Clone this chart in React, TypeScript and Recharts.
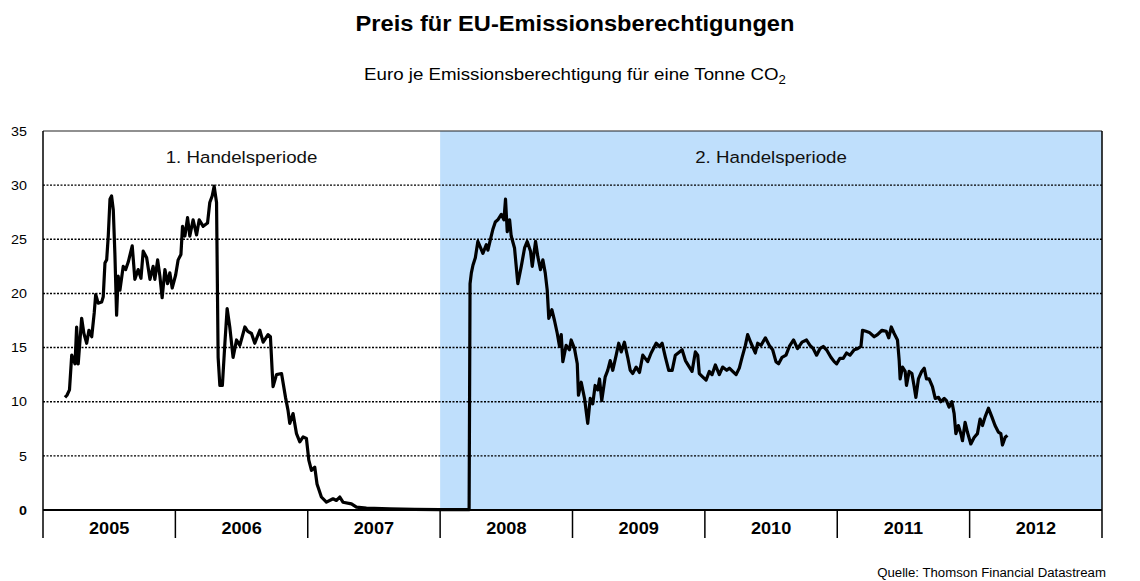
import React from "react"
import { LineChart, Line, XAxis, YAxis, ReferenceArea, ReferenceLine } from "recharts"

// 1. Handelsperiode (Spot, Euro je t CO2)
const dates1 = [
  2005.166, 2005.181, 2005.2, 2005.217, 2005.242, 2005.254, 2005.266, 2005.292, 2005.309, 2005.33,
  2005.347, 2005.368, 2005.387, 2005.398, 2005.417, 2005.443, 2005.455, 2005.468, 2005.481, 2005.493,
  2005.506, 2005.518, 2005.531, 2005.543, 2005.556, 2005.568, 2005.581, 2005.606, 2005.624, 2005.644,
  2005.674, 2005.694, 2005.719, 2005.74, 2005.757, 2005.783, 2005.808, 2005.832, 2005.845, 2005.866,
  2005.883, 2005.9, 2005.921, 2005.941, 2005.958, 2005.976, 2006.002, 2006.021, 2006.042, 2006.054,
  2006.072, 2006.092, 2006.109, 2006.134, 2006.16, 2006.18, 2006.21, 2006.243, 2006.26, 2006.278,
  2006.293, 2006.311, 2006.323, 2006.336, 2006.355, 2006.374, 2006.391, 2006.411, 2006.436, 2006.462,
  2006.487, 2006.525, 2006.547, 2006.575, 2006.6, 2006.638, 2006.663, 2006.7, 2006.718, 2006.731,
  2006.738, 2006.764, 2006.802, 2006.832, 2006.851, 2006.864, 2006.889, 2006.915, 2006.94, 2006.965,
  2006.99, 2007.008, 2007.028, 2007.053, 2007.07, 2007.103, 2007.141, 2007.191, 2007.217, 2007.242,
  2007.266, 2007.33, 2007.368, 2007.443, 2007.619, 2007.808, 2007.996, 2008.219,
]
const prices1 = [
  10.4, 10.6, 11.1, 14.3, 13.5, 16.9, 13.5, 17.7, 16.3, 15.4,
  16.6, 16.0, 18.2, 19.9, 19.1, 19.2, 19.7, 22.8, 23.1, 25.3,
  28.7, 29.0, 27.7, 23.7, 18.0, 21.6, 20.3, 22.5, 22.2, 22.9,
  24.4, 21.3, 22.2, 21.4, 23.9, 23.3, 21.3, 22.5, 21.3, 23.1,
  21.6, 19.6, 22.2, 20.9, 21.9, 20.5, 21.7, 23.1, 23.6, 26.2,
  25.3, 27.0, 25.3, 26.8, 25.4, 26.8, 26.2, 26.5, 28.4, 29.0,
  29.9, 28.4, 14.1, 11.5, 11.5, 15.4, 18.6, 16.9, 14.1, 15.7,
  15.2, 16.9, 16.5, 16.3, 15.4, 16.6, 15.5, 16.2, 16.0, 12.9,
  11.4, 12.5, 12.6, 10.4, 9.2, 8.0, 8.9, 7.05, 6.3, 6.75,
  6.6, 4.6, 3.65, 3.95, 2.4, 1.2, 0.72, 1.04, 0.88, 1.2,
  0.72, 0.57, 0.26, 0.17, 0.1, 0.05, 0.03, 0.03,
]

// 2. Handelsperiode
const dates2 = [
  2008.226, 2008.236, 2008.248, 2008.266, 2008.285, 2008.306, 2008.323, 2008.349, 2008.361, 2008.386,
  2008.398, 2008.417, 2008.436, 2008.462, 2008.482, 2008.494, 2008.507, 2008.525, 2008.537, 2008.562,
  2008.587, 2008.613, 2008.638, 2008.658, 2008.683, 2008.696, 2008.721, 2008.738, 2008.758, 2008.776,
  2008.794, 2008.809, 2008.821, 2008.844, 2008.864, 2008.885, 2008.902, 2008.915, 2008.927, 2008.952,
  2008.977, 2008.99, 2009.015, 2009.036, 2009.045, 2009.066, 2009.091, 2009.115, 2009.134, 2009.153,
  2009.171, 2009.191, 2009.204, 2009.221, 2009.247, 2009.266, 2009.285, 2009.304, 2009.33, 2009.349,
  2009.368, 2009.392, 2009.417, 2009.436, 2009.455, 2009.481, 2009.506, 2009.531, 2009.568, 2009.594,
  2009.632, 2009.657, 2009.677, 2009.702, 2009.727, 2009.753, 2009.777, 2009.808, 2009.828, 2009.853,
  2009.883, 2009.903, 2009.928, 2009.946, 2009.958, 2009.983, 2010.009, 2010.034, 2010.054, 2010.079,
  2010.109, 2010.134, 2010.165, 2010.185, 2010.21, 2010.236, 2010.26, 2010.281, 2010.306, 2010.323,
  2010.349, 2010.381, 2010.399, 2010.424, 2010.457, 2010.487, 2010.512, 2010.537, 2010.557, 2010.583,
  2010.613, 2010.638, 2010.67, 2010.7, 2010.734, 2010.768, 2010.794, 2010.819, 2010.844, 2010.869,
  2010.894, 2010.919, 2010.952, 2010.977, 2010.995, 2011.02, 2011.045, 2011.07, 2011.096, 2011.128,
  2011.153, 2011.179, 2011.191, 2011.217, 2011.242, 2011.279, 2011.304, 2011.338, 2011.37, 2011.389,
  2011.408, 2011.43, 2011.455, 2011.468, 2011.475, 2011.493, 2011.513, 2011.523, 2011.543, 2011.564,
  2011.581, 2011.594, 2011.613, 2011.638, 2011.657, 2011.674, 2011.694, 2011.719, 2011.74, 2011.765,
  2011.783, 2011.808, 2011.825, 2011.845, 2011.866, 2011.883, 2011.896, 2011.915, 2011.934, 2011.946,
  2011.966, 2011.983, 2012.009, 2012.034, 2012.059, 2012.079, 2012.097, 2012.117, 2012.142, 2012.168,
  2012.192, 2012.217, 2012.236, 2012.248, 2012.268, 2012.285,
]
const prices2 = [
  20.9, 21.9, 22.6, 23.3, 24.8, 24.2, 23.7, 24.5, 24.0, 25.3,
  25.9, 26.6, 26.8, 27.3, 26.8, 28.7, 25.7, 26.8, 25.3, 24.2,
  20.9, 22.5, 24.2, 24.8, 23.9, 22.5, 24.8, 23.4, 22.2, 23.1,
  21.9, 20.3, 17.7, 18.5, 17.5, 16.3, 15.1, 16.2, 13.7, 15.2,
  14.8, 15.7, 14.9, 13.5, 10.6, 11.8, 10.3, 8.0, 10.3, 9.8,
  11.5, 11.1, 12.1, 10.1, 12.3, 12.9, 13.8, 12.9, 14.3, 15.4,
  14.6, 15.5, 14.1, 12.9, 12.6, 13.2, 12.7, 14.3, 13.7, 14.5,
  15.4, 15.1, 15.4, 14.1, 12.9, 12.9, 14.3, 14.6, 14.8, 13.8,
  13.2, 12.8, 14.6, 14.3, 12.6, 12.3, 12.0, 12.8, 12.5, 13.4,
  12.5, 13.2, 12.9, 13.1, 12.8, 12.5, 13.1, 14.1, 15.2, 16.2,
  15.4, 14.5, 15.4, 15.2, 15.9, 15.2, 14.8, 13.7, 13.5, 14.1,
  14.3, 15.1, 15.7, 14.9, 15.5, 15.7, 15.2, 14.9, 14.3, 14.9,
  15.1, 14.8, 14.1, 13.7, 13.5, 14.0, 14.0, 14.5, 14.3, 14.8,
  14.9, 15.1, 16.6, 16.5, 16.4, 16.0, 16.2, 16.6, 16.5, 15.9,
  16.9, 16.3, 15.7, 13.8, 12.1, 13.2, 12.8, 11.5, 12.8, 12.6,
  11.4, 10.4, 12.1, 12.8, 13.1, 12.1, 12.1, 11.4, 10.3, 10.4,
  10.0, 10.3, 10.1, 9.5, 10.0, 8.9, 7.05, 7.8, 7.05, 6.4,
  8.1, 7.2, 6.1, 6.7, 7.05, 8.4, 7.8, 8.6, 9.4, 8.6,
  7.8, 7.2, 7.05, 6.0, 6.7, 6.9,
]

const yearStarts = [2005, 2006, 2007, 2008, 2009, 2010, 2011, 2012, 2013]
const yTicks = [0, 5, 10, 15, 20, 25, 30, 35]
const gridValues = [5, 10, 15, 20, 25, 30]
const periods = [
  { from: 2005, to: 2008, label: "1. Handelsperiode", fill: "none" },
  { from: 2008, to: 2013, label: "2. Handelsperiode", fill: "#bfdffc" },
]

const allDates = [...dates1, ...dates2]
const allPrices = [...prices1, ...prices2]
const data = allDates.map((t, i) => ({ t, price: allPrices[i] }))

// tick marks at the year boundaries, year labels in the middle of each year
const xTicks = yearStarts.flatMap((y, i) => (i < yearStarts.length - 1 ? [y, y + 0.5] : [y]))

const FONT = "Arial, 'Liberation Sans', Helvetica, sans-serif"
const SX = 1.1 // text in the reference is a bit wider than plain Arial

function XTick(props: any) {
  const { x, y, payload } = props
  const v = payload.value
  if (Number.isInteger(v)) {
    return <line x1={x} x2={x} y1={y} y2={y + 28} stroke="#000" strokeWidth={1.5} />
  }
  return (
    <text
      transform={`translate(${x},${y + 24}) scale(${SX},1)`}
      textAnchor="middle"
      fontFamily={FONT}
      fontSize={16.5}
      fontWeight="bold"
      fill="#000"
    >
      {Math.floor(v)}
    </text>
  )
}

function YTick(props: any) {
  const { x, y, payload, anchor } = props
  return (
    <text
      transform={`translate(${x},${y}) scale(${SX},1)`}
      dy="0.36em"
      textAnchor={anchor}
      fontFamily={FONT}
      fontSize={13}
      fontWeight={payload.value === 0 ? "bold" : "normal"}
      fill="#000"
    >
      {payload.value}
    </text>
  )
}

const periodLabel = (text: string) => (props: any) => {
  const vb = props.viewBox || {}
  return (
    <text
      transform={`translate(${vb.x + vb.width / 2},${vb.y + 32}) scale(${SX},1)`}
      textAnchor="middle"
      fontFamily={FONT}
      fontSize={17}
      fill="#111"
    >
      {text}
    </text>
  )
}

export default function App() {
  return (
    <div
      style={{
        position: "absolute",
        left: 0,
        top: 0,
        width: 1140,
        height: 581,
        background: "#fff",
        fontFamily: FONT,
        overflow: "hidden",
      }}
    >
      <div
        style={{
          position: "absolute",
          top: 12,
          left: 5,
          width: 1140,
          textAlign: "center",
          fontSize: 21.5,
          fontWeight: "bold",
          lineHeight: "24px",
          transform: `scaleX(${SX})`,
        }}
      >
        Preis für EU-Emissionsberechtigungen
      </div>
      <div
        style={{
          position: "absolute",
          top: 65,
          left: 5,
          width: 1140,
          textAlign: "center",
          fontSize: 17,
          lineHeight: "20px",
          transform: `scaleX(${SX})`,
        }}
      >
        Euro je Emissionsberechtigung für eine Tonne CO
        <sub style={{ fontSize: 12, verticalAlign: "-4px" }}>2</sub>
      </div>

      <div style={{ position: "absolute", left: 0, top: 0 }}>
        <LineChart width={1140} height={581} data={data} margin={{ top: 131, right: 0, bottom: 31, left: 0 }}>
          <XAxis
            dataKey="t"
            type="number"
            domain={[2005, 2013]}
            ticks={xTicks}
            interval={0}
            tick={<XTick />}
            tickLine={false}
            tickSize={0}
            tickMargin={0}
            height={40}
            allowDataOverflow
            axisLine={{ stroke: "#000", strokeWidth: 2 }}
          />
          <YAxis
            yAxisId="left"
            orientation="left"
            width={43}
            domain={[0, 35]}
            ticks={yTicks}
            interval={0}
            tick={<YTick anchor="end" />}
            tickLine={false}
            tickSize={0}
            tickMargin={16}
            axisLine={{ stroke: "#000", strokeWidth: 1.5 }}
          />
          <YAxis
            yAxisId="right"
            orientation="right"
            width={38}
            domain={[0, 35]}
            ticks={yTicks}
            interval={0}
            tick={<YTick anchor="start" />}
            tickLine={false}
            tickSize={0}
            tickMargin={14}
            axisLine={{ stroke: "#000", strokeWidth: 1.5 }}
          />
          {periods.map((p) => (
            <ReferenceArea
              key={p.label}
              yAxisId="left"
              x1={p.from}
              x2={p.to}
              y1={0}
              y2={35}
              fill={p.fill}
              fillOpacity={1}
              stroke="none"
              label={periodLabel(p.label)}
            />
          ))}
          {gridValues.map((v) => (
            <ReferenceLine key={v} yAxisId="left" y={v} stroke="#000" strokeWidth={1.4} strokeDasharray="2 1.5" />
          ))}
          <ReferenceLine yAxisId="left" y={35} stroke="#222" strokeWidth={1.2} />
          <Line
            yAxisId="left"
            dataKey="price"
            type="linear"
            stroke="#000"
            strokeWidth={3.2}
            strokeLinejoin="round"
            dot={false}
            isAnimationActive={false}
          />
        </LineChart>
      </div>

      <div
        style={{
          position: "absolute",
          top: 565,
          right: 34,
          fontSize: 12,
          lineHeight: "16px",
          whiteSpace: "nowrap",
          transform: `scaleX(${SX})`,
          transformOrigin: "right center",
        }}
      >
        Quelle: Thomson Financial Datastream
      </div>
    </div>
  )
}
